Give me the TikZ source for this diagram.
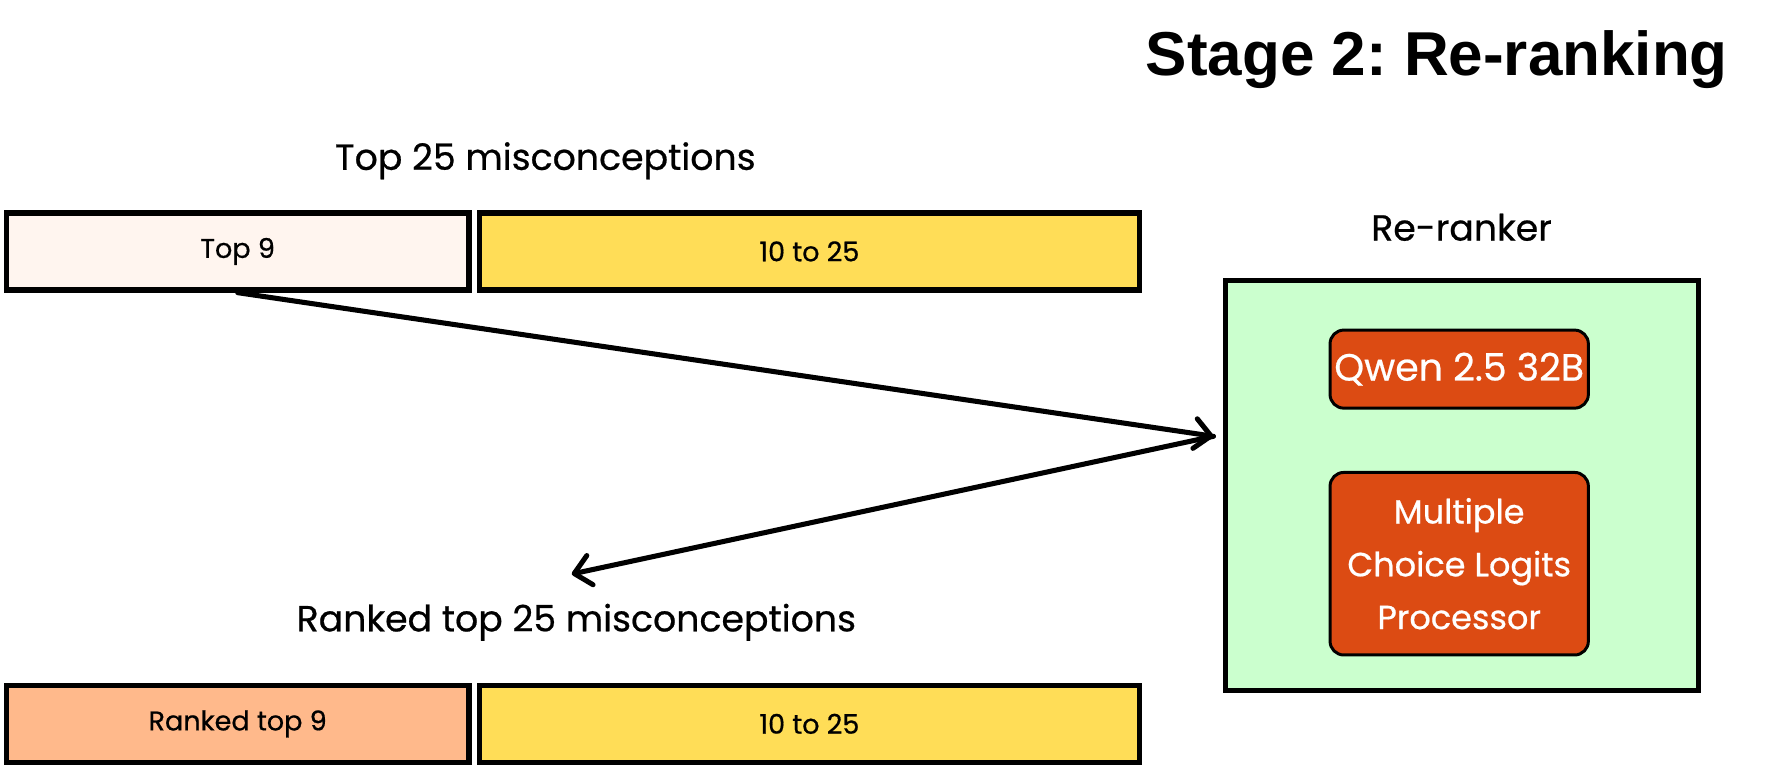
\documentclass[tikz,border=0pt]{standalone}
\usepackage{fontspec}
\setmainfont{Poppins}[FakeBold=0.6]
\newfontfamily\titlefont{Liberation Sans}
\usetikzlibrary{arrows.meta}
\frenchspacing
\definecolor{paleskin}{HTML}{FFF5EF}
\definecolor{sunny}{HTML}{FFDD57}
\definecolor{peach}{HTML}{FFB98B}
\definecolor{mint}{HTML}{CBFFCE}
\definecolor{rust}{HTML}{DC4B13}

\begin{document}
\begin{tikzpicture}[x=0.5pt,y=-0.5pt,
  bar/.style={draw, line width=2.4pt, minimum height=33.5pt, inner sep=0pt, font=\fontsize{11.8}{13}\selectfont},
  heading/.style={inner sep=0pt, font=\fontsize{15.8}{18}\selectfont},
  model/.style={draw, line width=1.3pt, rounded corners=6pt, fill=rust, text=white, minimum width=112.5pt, inner sep=0pt, align=center},
  link/.style={line width=2.2pt, line cap=round, -{Straight Barb[length=7pt,width=13pt,line cap=round,line join=round]}}]
\useasboundingbox (0,0) rectangle (1560,666);
\node [inner sep=0pt, font=\titlefont\bfseries\fontsize{27}{32}\selectfont] (title) at (1251.5,52) {Stage 2: Re-ranking};
\node [heading] (toplabel) at (475,140) {Top 25 misconceptions};
\node [bar, fill=paleskin, minimum width=201.5pt] (top9) at (207,219) {Top 9};
\node [bar, fill=sunny, minimum width=287.5pt] (rest) at (705,219) {10 to 25};
\node [heading] (rerankerlabel) at (1273,198) {Re-ranker};
\node [draw, line width=2.2pt, fill=mint, minimum width=206pt, minimum height=178.5pt] (reranker) at (1273.5,423) {};
\node [model, minimum height=34pt, font=\fontsize{16.5}{20}\selectfont] (qwen) at (1271,321.5) {Qwen 2.5 32B};
\node [model, minimum height=79.5pt, font=\fontsize{14.6}{23}\selectfont] (logits) at (1271,491) {Multiple\\Choice Logits\\Processor};
\node [heading] (rankedlabel) at (502,542) {Ranked top 25 misconceptions};
\node [bar, fill=peach, minimum width=201.5pt] (rankedtop9) at (207,630.5) {Ranked top 9};
\node [bar, fill=sunny, minimum width=287.5pt] (rankedrest) at (705,630.5) {10 to 25};
\coordinate (hub) at (1057,380);
\coordinate (back) at (498,500);
\draw [link] (top9.south) -- (hub);
\draw [link] (hub) -- (back);
\end{tikzpicture}
\end{document}
